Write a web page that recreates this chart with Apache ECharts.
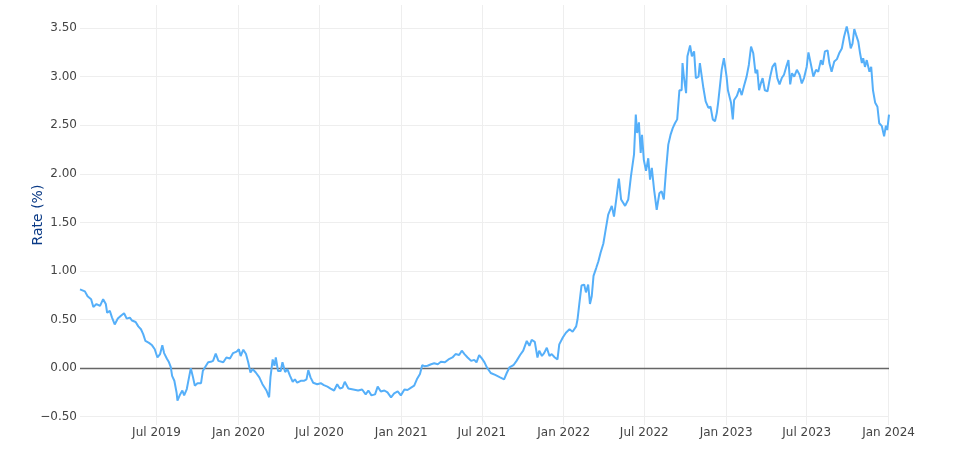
<!DOCTYPE html>
<html><head><meta charset="utf-8">
<script src="https://cdn.jsdelivr.net/npm/echarts@6/dist/echarts.min.js"></script>
<style>html,body{margin:0;padding:0;background:#fff}#c{width:970px;height:467px}</style>
</head><body><div id="c"></div>
<script>
const dates = [
'2019-01-10','2019-01-21','2019-01-27','2019-02-04','2019-02-09','2019-02-16','2019-02-24','2019-03-03','2019-03-09','2019-03-12',
'2019-03-18','2019-03-23','2019-03-29','2019-04-05','2019-04-12','2019-04-19','2019-04-25','2019-05-02','2019-05-07','2019-05-15',
'2019-05-21','2019-05-27','2019-06-01','2019-06-06','2019-06-14','2019-06-21','2019-06-27','2019-07-03','2019-07-09','2019-07-14',
'2019-07-18','2019-07-24','2019-07-29','2019-08-02','2019-08-05','2019-08-10','2019-08-15','2019-08-17','2019-08-23','2019-08-28',
'2019-09-01','2019-09-07','2019-09-12','2019-09-16','2019-09-21','2019-09-25','2019-10-01','2019-10-09','2019-10-13','2019-10-18',
'2019-10-25','2019-10-31','2019-11-05','2019-11-11','2019-11-17','2019-11-28','2019-12-05','2019-12-13','2019-12-20','2019-12-28',
'2020-01-02','2020-01-06','2020-01-12','2020-01-18','2020-01-23','2020-01-28','2020-02-02','2020-02-09','2020-02-17','2020-02-24',
'2020-03-04','2020-03-10','2020-03-13','2020-03-18','2020-03-22','2020-03-25','2020-03-30','2020-04-05','2020-04-09','2020-04-15',
'2020-04-20','2020-04-26','2020-05-02','2020-05-07','2020-05-12','2020-05-20','2020-05-27','2020-06-02','2020-06-06','2020-06-11',
'2020-06-17','2020-06-26','2020-07-04','2020-07-11','2020-07-19','2020-07-26','2020-08-03','2020-08-10','2020-08-16','2020-08-22',
'2020-08-27','2020-09-04','2020-09-15','2020-09-26','2020-10-05','2020-10-13','2020-10-19','2020-10-26','2020-11-03','2020-11-09',
'2020-11-16','2020-11-24','2020-12-01','2020-12-09','2020-12-16','2020-12-24','2020-12-31','2021-01-08','2021-01-15','2021-01-23',
'2021-01-30','2021-02-05','2021-02-12','2021-02-17','2021-02-22','2021-03-01','2021-03-09','2021-03-16','2021-03-24','2021-03-31',
'2021-04-09','2021-04-17','2021-04-26','2021-05-03','2021-05-11','2021-05-17','2021-05-23','2021-05-30','2021-06-07','2021-06-14',
'2021-06-19','2021-06-25','2021-07-01','2021-07-07','2021-07-12','2021-07-21','2021-07-31','2021-08-11','2021-08-20','2021-08-26',
'2021-09-01','2021-09-10','2021-09-17','2021-09-25','2021-10-02','2021-10-10','2021-10-16','2021-10-21','2021-10-28','2021-11-03',
'2021-11-07','2021-11-13','2021-11-18','2021-11-24','2021-11-30','2021-12-05','2021-12-12','2021-12-18','2021-12-22','2021-12-30',
'2022-01-06','2022-01-14','2022-01-21','2022-01-29','2022-02-01','2022-02-05','2022-02-10','2022-02-16','2022-02-20','2022-02-25',
'2022-03-01','2022-03-05','2022-03-09','2022-03-15','2022-03-20','2022-03-25','2022-03-31','2022-04-04','2022-04-11','2022-04-19',
'2022-04-24','2022-04-30','2022-05-05','2022-05-10','2022-05-19','2022-05-26','2022-06-01','2022-06-08','2022-06-12','2022-06-15',
'2022-06-19','2022-06-23','2022-06-26','2022-06-30','2022-07-05','2022-07-10','2022-07-14','2022-07-18','2022-07-23','2022-07-29',
'2022-08-04','2022-08-09','2022-08-14','2022-08-19','2022-08-24','2022-08-29','2022-09-03','2022-09-08','2022-09-13','2022-09-18',
'2022-09-23','2022-09-25','2022-09-28','2022-10-03','2022-10-06','2022-10-12','2022-10-16','2022-10-21','2022-10-25','2022-10-31',
'2022-11-03','2022-11-07','2022-11-11','2022-11-16','2022-11-22','2022-11-27','2022-12-02','2022-12-07','2022-12-11','2022-12-14',
'2022-12-18','2022-12-22','2022-12-27','2023-01-02','2023-01-05','2023-01-08','2023-01-12','2023-01-16','2023-01-19','2023-01-25',
'2023-01-31','2023-02-05','2023-02-10','2023-02-16','2023-02-21','2023-02-26','2023-03-03','2023-03-08','2023-03-12','2023-03-16',
'2023-03-20','2023-03-24','2023-03-29','2023-04-04','2023-04-10','2023-04-15','2023-04-21','2023-04-26','2023-05-01','2023-05-06',
'2023-05-11','2023-05-16','2023-05-21','2023-05-25','2023-05-29','2023-06-03','2023-06-09','2023-06-15','2023-06-20','2023-06-25',
'2023-07-01','2023-07-05','2023-07-09','2023-07-13','2023-07-16','2023-07-22','2023-07-27','2023-08-02','2023-08-06','2023-08-11',
'2023-08-17','2023-08-21','2023-08-26','2023-09-01','2023-09-07','2023-09-12','2023-09-18','2023-09-23','2023-09-29','2023-10-03',
'2023-10-08','2023-10-12','2023-10-16','2023-10-20','2023-10-25','2023-10-29','2023-11-02','2023-11-05','2023-11-09','2023-11-13',
'2023-11-19','2023-11-23','2023-11-27','2023-12-02','2023-12-07','2023-12-11','2023-12-17','2023-12-22','2023-12-26','2023-12-29',
'2024-01-02'
];
const rates = [
0.81,0.79,0.74,0.71,0.63,0.66,0.64,0.71,0.66,0.57,
0.59,0.52,0.45,0.51,0.54,0.565,0.51,0.52,0.49,0.475,
0.43,0.40,0.35,0.28,0.26,0.235,0.195,0.11,0.145,0.235,
0.155,0.10,0.06,0.01,-0.08,-0.13,-0.25,-0.335,-0.27,-0.23,
-0.28,-0.215,-0.095,0.00,-0.095,-0.18,-0.155,-0.155,-0.03,0.01,
0.06,0.065,0.075,0.15,0.075,0.06,0.11,0.10,0.155,0.17,
0.195,0.125,0.19,0.145,0.06,-0.045,-0.01,-0.045,-0.095,-0.165,
-0.23,-0.30,-0.095,0.09,0.025,0.11,-0.03,-0.03,0.06,-0.04,
-0.01,-0.08,-0.14,-0.115,-0.15,-0.13,-0.13,-0.115,-0.02,-0.095,
-0.15,-0.165,-0.155,-0.175,-0.19,-0.21,-0.23,-0.165,-0.21,-0.20,
-0.14,-0.21,-0.22,-0.23,-0.22,-0.27,-0.23,-0.28,-0.27,-0.19,
-0.24,-0.23,-0.25,-0.30,-0.26,-0.24,-0.28,-0.22,-0.225,-0.20,
-0.18,-0.115,-0.06,0.03,0.02,0.025,0.04,0.05,0.04,0.065,
0.06,0.09,0.11,0.145,0.135,0.18,0.145,0.11,0.075,0.085,
0.06,0.135,0.10,0.06,0.01,-0.05,-0.07,-0.095,-0.115,-0.05,
0.007,0.03,0.075,0.135,0.18,0.28,0.23,0.29,0.27,0.11,
0.18,0.125,0.155,0.21,0.125,0.145,0.11,0.09,0.245,0.315,
0.365,0.40,0.375,0.43,0.50,0.66,0.85,0.86,0.78,0.86,
0.66,0.74,0.95,1.03,1.10,1.19,1.28,1.39,1.58,1.67,
1.56,1.77,1.95,1.735,1.67,1.735,1.97,2.20,2.61,2.42,
2.53,2.215,2.40,2.145,2.03,2.16,1.94,2.06,1.84,1.63,
1.80,1.82,1.735,2.04,2.30,2.40,2.47,2.52,2.56,2.86,
2.86,3.14,3.00,2.83,3.21,3.32,3.21,3.26,2.985,3.00,
3.14,3.12,2.88,2.745,2.68,2.69,2.56,2.54,2.625,2.73,
2.90,3.07,3.19,3.00,2.86,2.88,2.73,2.56,2.76,2.80,
2.88,2.81,2.90,3.00,3.12,3.31,3.24,3.035,3.07,2.86,
2.93,2.985,2.86,2.85,3.00,3.10,3.14,2.985,2.92,2.985,
3.02,3.10,3.17,2.92,3.035,3.00,3.07,3.02,2.93,2.985,
3.10,3.25,3.24,3.07,3.00,3.07,3.05,3.17,3.12,3.26,
3.27,3.14,3.05,3.155,3.18,3.24,3.29,3.41,3.515,3.43,
3.29,3.34,3.49,3.43,3.36,3.24,3.14,3.19,3.10,3.17,
3.05,3.10,2.86,2.73,2.69,2.52,2.49,2.385,2.495,2.45,
2.61
];
const xTicks = ['2019-07-01','2020-01-01','2020-07-01','2021-01-01','2021-07-01','2022-01-01','2022-07-01','2023-01-01','2023-07-01','2024-01-01'];
const yTicks = [-0.5,0,0.5,1,1.5,2,2.5,3,3.5];
const yTitle = 'Rate (%)';

const months = ['Jan','Feb','Mar','Apr','May','Jun','Jul','Aug','Sep','Oct','Nov','Dec'];
const ts = d => Date.UTC(+d.slice(0,4), +d.slice(5,7) - 1, +d.slice(8,10));
const xTickVals = xTicks.map(ts);
const FONT = '"DejaVu Sans", Verdana, sans-serif';

const chart = echarts.init(document.getElementById('c'), null, {renderer: 'canvas'});
chart.setOption({
  animation: false,
  backgroundColor: '#fff',
  grid: {left: 80, right: 81, top: 5, bottom: 42, containLabel: false},
  xAxis: {
    type: 'value',
    min: ts(dates[0]),
    max: ts(dates[dates.length - 1]),
    axisLine: {show: false},
    axisTick: {show: false, customValues: xTickVals},
    splitLine: {show: true, lineStyle: {color: '#eeeeee', width: 1}},
    axisLabel: {
      customValues: xTickVals,
      margin: 2,
      color: '#444',
      fontFamily: FONT,
      fontSize: 12,
      hideOverlap: false,
      formatter: function (v) {
        const d = new Date(v);
        return months[d.getUTCMonth()] + ' ' + d.getUTCFullYear();
      }
    }
  },
  yAxis: {
    type: 'value',
    min: -0.585,
    max: 3.737,
    name: yTitle,
    nameLocation: 'middle',
    nameGap: 35,
    nameRotate: 90,
    nameMoveOverlap: false,
    nameTextStyle: {color: '#0a3a86', fontFamily: FONT, fontSize: 14},
    axisLine: {show: false},
    axisTick: {show: false, customValues: yTicks},
    splitLine: {show: true, lineStyle: {color: '#eeeeee', width: 1}},
    axisLabel: {
      customValues: yTicks,
      margin: 3,
      color: '#444',
      fontFamily: FONT,
      fontSize: 12,
      formatter: v => v.toFixed(2).replace('-', '\u2212')
    }
  },
  series: [{
    type: 'line',
    data: dates.map((d, i) => [ts(d), rates[i]]),
    showSymbol: false,
    symbol: 'none',
    lineStyle: {color: '#55aff9', width: 2},
    itemStyle: {color: '#55aff9'},
    z: 3,
    markLine: {
      silent: true,
      symbol: 'none',
      label: {show: false},
      lineStyle: {color: '#666', width: 1.3, type: 'solid'},
      data: [{yAxis: 0}],
      z: 2
    }
  }]
});
</script></body></html>
